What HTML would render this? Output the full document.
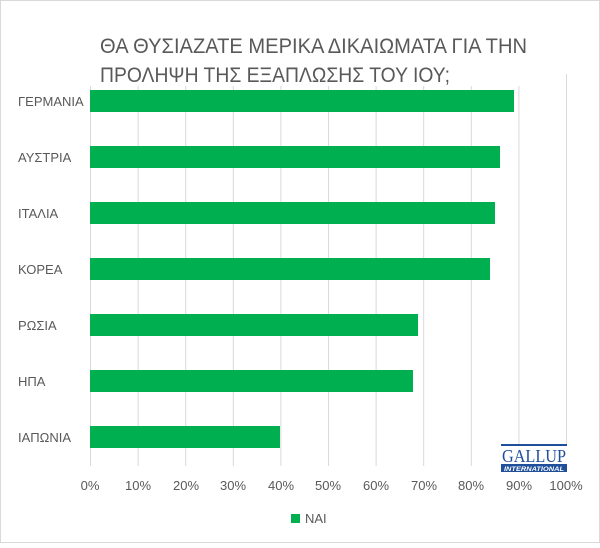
<!DOCTYPE html>
<html><head><meta charset="utf-8"><style>
body{margin:0;background:#fff;}
svg text{font-family:"Liberation Sans",sans-serif;}
</style></head><body>
<svg width="600" height="543" xmlns="http://www.w3.org/2000/svg">
<rect x="0.5" y="0.5" width="599" height="542" fill="#fff" stroke="#d9d9d9"/>
<text x="100" y="53" font-size="21" fill="#595959" textLength="427" lengthAdjust="spacingAndGlyphs">ΘΑ ΘΥΣΙΑΖΑΤΕ ΜΕΡΙΚΑ ΔΙΚΑΙΩΜΑΤΑ ΓΙΑ ΤΗΝ</text>
<text x="100" y="82" font-size="21" fill="#595959" textLength="350" lengthAdjust="spacingAndGlyphs">ΠΡΟΛΗΨΗ ΤΗΣ ΕΞΑΠΛΩΣΗΣ ΤΟΥ ΙΟΥ;</text>
<g stroke="#d9d9d9" stroke-width="1">
<line x1="90.5" y1="86" x2="90.5" y2="466"/>
<line x1="138.1" y1="86" x2="138.1" y2="466"/>
<line x1="185.7" y1="86" x2="185.7" y2="466"/>
<line x1="233.3" y1="86" x2="233.3" y2="466"/>
<line x1="280.9" y1="86" x2="280.9" y2="466"/>
<line x1="328.5" y1="86" x2="328.5" y2="466"/>
<line x1="376.1" y1="86" x2="376.1" y2="466"/>
<line x1="423.7" y1="86" x2="423.7" y2="466"/>
<line x1="471.3" y1="86" x2="471.3" y2="466"/>
<line x1="518.9" y1="86" x2="518.9" y2="466"/>
<line x1="566.5" y1="74" x2="566.5" y2="466"/>
</g>
<g fill="#00b050">
<rect x="90" y="90" width="424" height="22"/>
<rect x="90" y="146" width="410" height="22"/>
<rect x="90" y="202" width="405" height="22"/>
<rect x="90" y="258" width="400" height="22"/>
<rect x="90" y="314" width="328" height="22"/>
<rect x="90" y="370" width="323" height="22"/>
<rect x="90" y="426" width="190" height="22"/>
</g>
<g font-size="13" fill="#595959">
<text x="18" y="106">ΓΕΡΜΑΝΙΑ</text>
<text x="18" y="162">ΑΥΣΤΡΙΑ</text>
<text x="18" y="218">ΙΤΑΛΙΑ</text>
<text x="18" y="274">ΚΟΡΕΑ</text>
<text x="18" y="330">ΡΩΣΙΑ</text>
<text x="18" y="386">ΗΠΑ</text>
<text x="18" y="442">ΙΑΠΩΝΙΑ</text>
</g>
<g font-size="13" fill="#595959" text-anchor="middle">
<text x="90" y="490">0%</text>
<text x="138" y="490">10%</text>
<text x="186" y="490">20%</text>
<text x="233" y="490">30%</text>
<text x="281" y="490">40%</text>
<text x="328" y="490">50%</text>
<text x="376" y="490">60%</text>
<text x="424" y="490">70%</text>
<text x="471" y="490">80%</text>
<text x="519" y="490">90%</text>
<text x="566" y="490">100%</text>
</g>
<rect x="501" y="444" width="66" height="28" fill="#fff"/>
<rect x="501" y="444" width="66" height="2" fill="#1f4e9a"/>
<text x="534" y="462" font-size="18" fill="#1f4e9a" text-anchor="middle" textLength="64" lengthAdjust="spacingAndGlyphs" style="font-family:'Liberation Serif',serif">GALLUP</text>
<rect x="501" y="464" width="66" height="8" fill="#1f4e9a"/>
<text x="534" y="471" font-size="6" fill="#fff" text-anchor="middle" textLength="60" lengthAdjust="spacingAndGlyphs" font-style="italic" font-weight="bold">INTERNATIONAL</text>
<rect x="291" y="514" width="9" height="9" fill="#00b050"/>
<text x="305" y="523" font-size="13" fill="#595959">ΝΑΙ</text>
</svg>
</body></html>
